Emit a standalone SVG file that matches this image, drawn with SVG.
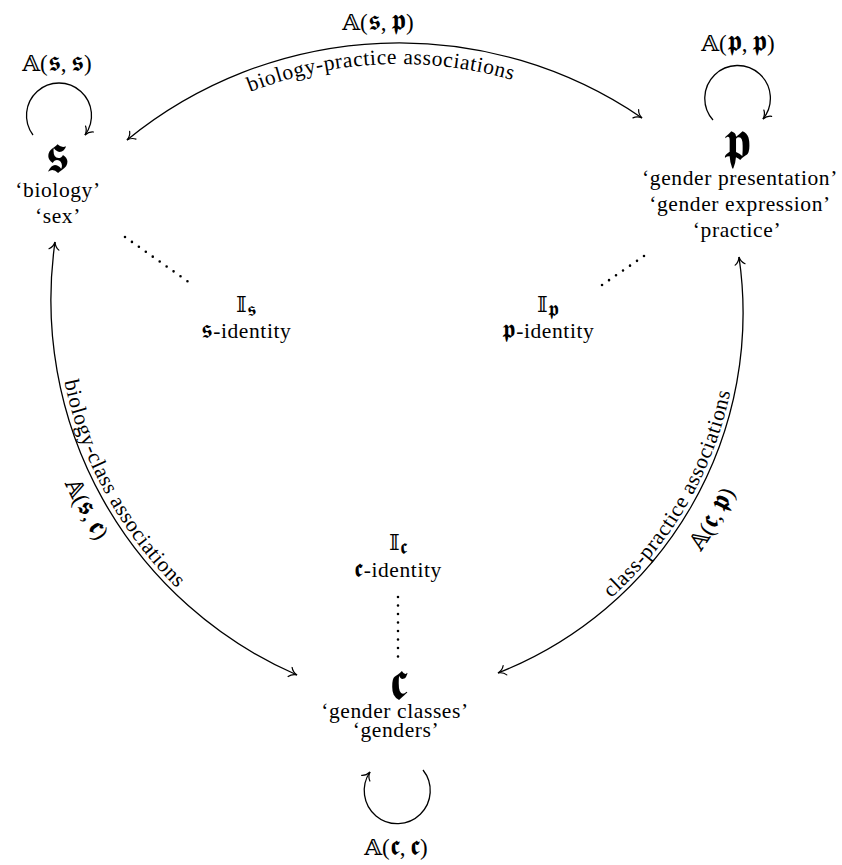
<svg xmlns="http://www.w3.org/2000/svg" width="842" height="865" viewBox="0 0 842 865">
<style>
.t{font-family:"Liberation Serif","DejaVu Serif",serif;font-size:21.5px;letter-spacing:0.6px;fill:#000;text-anchor:middle}
.tp{font-family:"Liberation Serif","DejaVu Serif",serif;font-size:21.5px;letter-spacing:0.6px;fill:#000}
.m{font-family:"Liberation Serif","DejaVu Serif",serif;font-size:23px;fill:#000;text-anchor:middle}
.mp{font-family:"Liberation Serif","DejaVu Serif",serif;font-size:23px;fill:#000}
.fk{font-size:29px}
.fs{font-size:26px}
.big{font-family:"DejaVu Serif","DejaVu Sans",serif;font-size:55px;fill:#000;text-anchor:middle}
.edge{fill:none;stroke:#000;stroke-width:1.3}
.dot{fill:none;stroke:#000;stroke-width:2.6;stroke-linecap:round;stroke-dasharray:0 8.5}
</style>
<defs>
<marker id="ah" viewBox="-9 -6 11 12" refX="0" refY="0" markerWidth="11" markerHeight="12" markerUnits="userSpaceOnUse" orient="auto-start-reverse">
<path d="M-7.5,-5 C-5.5,-1.6 -2,-0.4 0,0 C-2,0.4 -5.5,1.6 -7.5,5" fill="none" stroke="#000" stroke-width="1.2" stroke-linecap="round"/>
</marker>
<path id="pTop" d="M194.5,118.8 A409,409 0 0,1 570.6,101.7"/>
<path id="pLeftIn" d="M64,220.1 A404,404 0 0,0 312.6,676.2"/>
<path id="pLeftOut" d="M31.7,218.7 A436,436 0 0,0 305.5,707.7"/>
<path id="pRightIn" d="M487.2,672.3 A382,382 0 0,0 732.7,247"/>
<path id="pRightOut" d="M499.8,707 A419,419 0 0,0 769.1,240.5"/>
</defs>
<rect width="842" height="865" fill="#fff"/>

<g id="connectors">
<path class="edge" d="M127,140 A430,430 0 0,1 642,118" marker-start="url(#ah)" marker-end="url(#ah)"/>
<path class="edge" d="M55,242 A409,409 0 0,0 297,675" marker-start="url(#ah)" marker-end="url(#ah)"/>
<path class="edge" d="M739,257 A387,387 0 0,1 498,673" marker-start="url(#ah)" marker-end="url(#ah)"/>
<path class="edge" d="M33,135 A32.5,32.5 0 1,1 85,135" marker-end="url(#ah)"/>
<path class="edge" d="M713,120 A32.8,32.8 0 1,1 763,119" marker-end="url(#ah)"/>
<path class="edge" d="M423,770 A33,33 0 1,1 370,772" marker-end="url(#ah)"/>
<path class="dot" d="M125,237 L190,283"/>
<path class="dot" d="M644,256 L602,285"/>
<path class="dot" d="M398,597 L398,663"/>
</g>

<g id="edge-labels">
<text class="m" x="378" y="30">𝔸(<tspan class="fk">𝖘</tspan>,&#8201;<tspan class="fk">𝖕</tspan>)</text>
<text class="tp"><textPath href="#pTop" startOffset="50%" text-anchor="middle">biology-practice associations</textPath></text>
<text class="tp"><textPath href="#pLeftIn" startOffset="50%" text-anchor="middle">biology-class associations</textPath></text>
<text class="mp"><textPath href="#pLeftOut" startOffset="50%" text-anchor="middle">𝔸(<tspan class="fk">𝖘</tspan>,&#8201;<tspan class="fk">𝖈</tspan>)</textPath></text>
<text class="tp"><textPath href="#pRightIn" startOffset="50%" text-anchor="middle">class-practice associations</textPath></text>
<text class="mp"><textPath href="#pRightOut" startOffset="50%" text-anchor="middle">𝔸(<tspan class="fk">𝖈</tspan>,&#8201;<tspan class="fk">𝖕</tspan>)</textPath></text>
<text class="m" x="57" y="71">𝔸(<tspan class="fk">𝖘</tspan>,&#8201;<tspan class="fk">𝖘</tspan>)</text>
<text class="m" x="738" y="51">𝔸(<tspan class="fk">𝖕</tspan>,&#8201;<tspan class="fk">𝖕</tspan>)</text>
<text class="m" x="396" y="855">𝔸(<tspan class="fk">𝖈</tspan>,&#8201;<tspan class="fk">𝖈</tspan>)</text>
</g>

<g id="node-s">
<text class="big" x="57" y="173">𝖘</text>
<text class="t" x="58" y="197">‘biology’</text>
<text class="t" x="58" y="223">‘sex’</text>
</g>

<g id="node-p">
<text class="big" x="737" y="160">𝖕</text>
<text class="t" x="740" y="185">‘gender presentation’</text>
<text class="t" x="740" y="211">‘gender expression’</text>
<text class="t" x="737" y="237">‘practice’</text>
</g>

<g id="node-c">
<text class="big" x="398" y="700">𝖈</text>
<text class="t" x="395" y="718">‘gender classes’</text>
<text class="t" x="396" y="737">‘genders’</text>
</g>

<g id="identity-s">
<text class="m" x="246" y="312">𝕀<tspan font-size="21" dy="4">𝖘</tspan></text>
<text class="t" x="246" y="338"><tspan class="fs">𝖘</tspan>-identity</text>
</g>

<g id="identity-p">
<text class="m" x="548" y="312">𝕀<tspan font-size="21" dy="4">𝖕</tspan></text>
<text class="t" x="548" y="338"><tspan class="fs">𝖕</tspan>-identity</text>
</g>

<g id="identity-c">
<text class="m" x="398" y="550">𝕀<tspan font-size="21" dy="4">𝖈</tspan></text>
<text class="t" x="398" y="577"><tspan class="fs">𝖈</tspan>-identity</text>
</g>
</svg>
